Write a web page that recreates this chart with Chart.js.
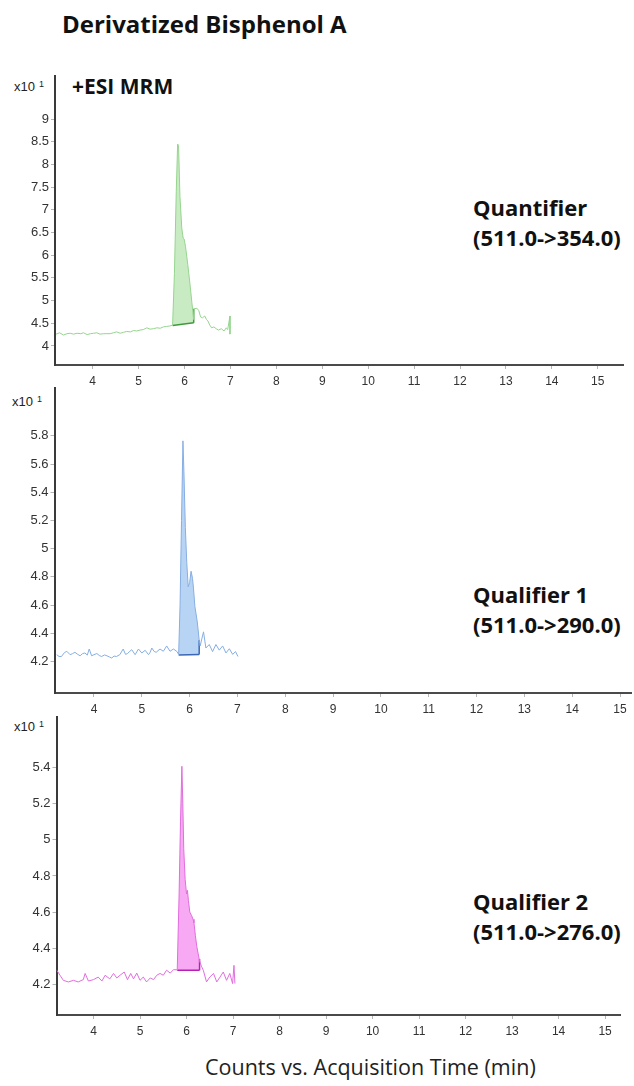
<!DOCTYPE html>
<html>
<head>
<meta charset="utf-8">
<title>Derivatized Bisphenol A</title>
<script src="https://cdn.jsdelivr.net/npm/chart.js@4.4.1/dist/chart.umd.min.js"></script>
<style>
  body { margin: 0; background: #fff; }
  #page { position: relative; width: 634px; height: 1086px; overflow: hidden; font-family: "Open Sans", sans-serif; color: #111; }
  #page canvas { position: absolute; }
  .txt { position: absolute; white-space: nowrap; }
  .title { left: 62px; top: 9px; font-size: 24px; font-weight: 700; line-height: 30px; }
  .mode { left: 72px; top: 71px; font-size: 21px; font-weight: 700; line-height: 30px; }
  .exp { font-family: "Liberation Sans", sans-serif; font-size: 13px; line-height: 13px; color: #222; }
  .exp sup { font-size: 9px; position: relative; top: -2px; vertical-align: top; margin-left: 4px; }
  .trans { left: 473px; font-size: 22px; font-weight: 700; line-height: 30px; }
  .xtitle { left: 205px; top: 1052px; font-size: 21.5px; line-height: 30px; color: #222; }
</style>
</head>
<body>
<div id="page">
  <div class="txt title">Derivatized Bisphenol A</div>
  <div class="txt mode">+ESI MRM</div>

  <div class="txt exp" style="left:14px;top:80px;">x10<sup>1</sup></div>
  <div class="txt exp" style="left:12px;top:395px;">x10<sup>1</sup></div>
  <div class="txt exp" style="left:14px;top:720px;">x10<sup>1</sup></div>

  <div class="txt trans" style="top:192px;">Quantifier<br>(511.0-&gt;354.0)</div>
  <div class="txt trans" style="top:579px;">Qualifier 1<br>(511.0-&gt;290.0)</div>
  <div class="txt trans" style="top:886px;">Qualifier 2<br>(511.0-&gt;276.0)</div>

  <div class="txt xtitle">Counts vs. Acquisition Time (min)</div>

  <canvas id="quant" width="634" height="329" style="left:0;top:66px;"></canvas>
  <canvas id="qual1" width="634" height="345" style="left:0;top:378px;"></canvas>
  <canvas id="qual2" width="634" height="338" style="left:0;top:707px;"></canvas>
</div>

<script>
// retention time axis ticks (min)
var timeTicks = [4, 5, 6, 7, 8, 9, 10, 11, 12, 13, 14, 15];

// Quantifier 511.0 -> 354.0  (counts x10^1)
var quantTime = [3.20, 3.28, 3.36, 3.44, 3.51, 3.58, 3.66, 3.74, 3.80, 3.88, 3.95, 4.02, 4.09, 4.16, 4.24, 4.31,
  4.38, 4.45, 4.52, 4.60, 4.67, 4.74, 4.82, 4.89, 4.96, 5.03, 5.10, 5.18, 5.25, 5.32, 5.40, 5.47, 5.54, 5.61, 5.68,
  5.74, 5.78, 5.82, 5.85, 5.87, 5.90, 5.94, 5.97, 5.99, 6.02, 6.07, 6.12, 6.16, 6.20,
  6.21, 6.27, 6.31, 6.35, 6.39, 6.44, 6.48, 6.51, 6.55, 6.59, 6.64, 6.69, 6.74, 6.80, 6.86, 6.91, 6.94, 6.99, 6.99];
var quantCounts = [4.26, 4.29, 4.24, 4.27, 4.28, 4.26, 4.28, 4.27, 4.29, 4.25, 4.27, 4.28, 4.29, 4.26, 4.27, 4.27,
  4.27, 4.29, 4.31, 4.28, 4.30, 4.32, 4.31, 4.34, 4.33, 4.35, 4.36, 4.40, 4.37, 4.38, 4.40, 4.39, 4.42, 4.43, 4.44,
  4.46, 5.60, 7.40, 8.45, 8.42, 7.30, 6.60, 6.38, 6.36, 6.20, 5.80, 5.35, 4.96, 4.58,
  4.82, 4.83, 4.78, 4.64, 4.62, 4.66, 4.58, 4.55, 4.46, 4.40, 4.42, 4.38, 4.35, 4.38, 4.33, 4.40, 4.36, 4.66, 4.26];
var quantBaseTime = [5.74, 6.20];
var quantBaseCounts = [4.45, 4.51];
var quantDropCounts = [4.51, 4.82];
var quantTicks = [4, 4.5, 5, 5.5, 6, 6.5, 7, 7.5, 8, 8.5, 9];

// Qualifier 1  511.0 -> 290.0
var qual1Time = [3.22, 3.27, 3.32, 3.38, 3.43, 3.50, 3.55, 3.60, 3.66, 3.71, 3.76, 3.81, 3.86, 3.90, 3.95, 4.00, 4.06,
  4.11, 4.16, 4.22, 4.27, 4.32, 4.37, 4.42, 4.47, 4.54, 4.61, 4.66, 4.70, 4.75, 4.79, 4.86, 4.93, 5.00, 5.07, 5.14,
  5.17, 5.21, 5.26, 5.30, 5.38, 5.45, 5.52, 5.59, 5.66, 5.73, 5.77,
  5.80, 5.83, 5.86, 5.88, 5.91, 5.94, 5.97, 6.00, 6.03, 6.06, 6.08, 6.11, 6.16, 6.20,
  6.22, 6.29, 6.34, 6.41, 6.48, 6.55, 6.62, 6.69, 6.76, 6.83, 6.90, 6.96, 7.01];
var qual1Counts = [4.248, 4.235, 4.235, 4.262, 4.272, 4.248, 4.255, 4.265, 4.250, 4.240, 4.255, 4.260, 4.245, 4.288, 4.240, 4.248, 4.256,
  4.242, 4.235, 4.246, 4.240, 4.232, 4.224, 4.238, 4.235, 4.248, 4.288, 4.250, 4.256, 4.272, 4.283, 4.248, 4.288, 4.260, 4.279, 4.248,
  4.262, 4.295, 4.270, 4.265, 4.288, 4.272, 4.310, 4.272, 4.288, 4.272, 4.250,
  4.600, 5.200, 5.765, 5.550, 5.150, 4.900, 4.730, 4.760, 4.840, 4.790, 4.720, 4.590, 4.480, 4.350,
  4.310, 4.410, 4.295, 4.320, 4.270, 4.320, 4.280, 4.310, 4.260, 4.290, 4.250, 4.270, 4.235];
var qual1BaseTime = [5.77, 6.20];
var qual1BaseCounts = [4.245, 4.25];
var qual1DropCounts = [4.25, 4.35];
var qual1Ticks = [4.2, 4.4, 4.6, 4.8, 5, 5.2, 5.4, 5.6, 5.8];

// Qualifier 2  511.0 -> 276.0
var qual2Time = [3.21, 3.28, 3.35, 3.46, 3.57, 3.67, 3.78, 3.82, 3.89, 4.00, 4.10, 4.18, 4.25, 4.35, 4.43, 4.50, 4.57,
  4.66, 4.73, 4.80, 4.86, 4.93, 5.00, 5.07, 5.14, 5.22, 5.29, 5.36, 5.43, 5.50, 5.57, 5.65, 5.72, 5.80,
  5.84, 5.87, 5.90, 5.92, 5.94, 5.97, 6.00, 6.02, 6.04, 6.07, 6.11, 6.14, 6.16, 6.19, 6.22, 6.25, 6.28,
  6.32, 6.36, 6.43, 6.50, 6.58, 6.65, 6.72, 6.79, 6.86, 6.93, 6.99, 7.02, 7.04];
var qual2Counts = [4.278, 4.250, 4.222, 4.213, 4.222, 4.213, 4.226, 4.260, 4.218, 4.226, 4.240, 4.218, 4.250, 4.230, 4.260, 4.235, 4.250,
  4.268, 4.226, 4.260, 4.230, 4.262, 4.222, 4.240, 4.213, 4.235, 4.226, 4.250, 4.260, 4.250, 4.278, 4.262, 4.281, 4.280,
  4.700, 5.100, 5.407, 5.200, 4.950, 4.780, 4.700, 4.720, 4.665, 4.600, 4.580, 4.560, 4.540, 4.470, 4.410, 4.370, 4.330,
  4.300, 4.278, 4.213, 4.240, 4.260, 4.213, 4.240, 4.268, 4.222, 4.260, 4.204, 4.305, 4.204];
var qual2BaseTime = [5.80, 6.28];
var qual2BaseCounts = [4.278, 4.278];
var qual2DropCounts = [4.278, 4.34];
var qual2Ticks = [4.2, 4.4, 4.6, 4.8, 5, 5.2, 5.4];

function toPoints(xs, ys) {
  var pts = [];
  for (var i = 0; i < xs.length; i++) {
    pts.push({ x: xs[i], y: ys[i] });
  }
  return pts;
}

// part of the trace inside the integration window
function peakPoints(xs, ys, from, to) {
  var pts = [];
  for (var i = 0; i < xs.length; i++) {
    if (xs[i] >= from - 1e-9 && xs[i] <= to + 1e-9) pts.push({ x: xs[i], y: ys[i] });
  }
  return pts;
}

function fixedTicks(values) {
  return function (scale) {
    scale.ticks = values.map(function (v) { return { value: v }; });
  };
}

function drawTrace(id, s) {
  var ctx = document.getElementById(id).getContext('2d');
  var baseEnd = s.baseTime[1];
  return new Chart(ctx, {
    type: 'line',
    data: {
      datasets: [
        { data: toPoints(s.time, s.counts), borderColor: s.line, borderWidth: 1, pointRadius: 0, tension: 0, fill: false },
        { data: toPoints(s.baseTime, s.baseCounts), borderColor: s.dark, borderWidth: 1.5, pointRadius: 0, fill: false },
        { data: toPoints([baseEnd, baseEnd], s.drop), borderColor: s.dark, borderWidth: 1.5, pointRadius: 0, fill: false },
        { data: peakPoints(s.time, s.counts, s.baseTime[0], baseEnd), borderWidth: 0, borderColor: 'rgba(0,0,0,0)',
          pointRadius: 0, backgroundColor: s.area, fill: 1 }
      ]
    },
    options: {
      responsive: false,
      animation: false,
      devicePixelRatio: 1,
      layout: { padding: { top: 10, right: s.padRight, left: 0, bottom: 0 } },
      plugins: { legend: { display: false }, tooltip: { enabled: false } },
      scales: {
        x: {
          type: 'linear', min: s.xMin, max: s.xMax,
          afterBuildTicks: fixedTicks(timeTicks),
          afterFit: function (scale) { scale.height = 30; },
          grid: { drawOnChartArea: false, tickLength: 4, color: '#b5b5b5' },
          border: { color: '#4a4a4a', width: 2 },
          ticks: { color: '#333', padding: 5, maxRotation: 0, autoSkip: false,
            font: { family: 'Liberation Sans', size: 12 } }
        },
        y: {
          type: 'linear', min: s.yMin, max: s.yMax,
          afterBuildTicks: fixedTicks(s.ticks),
          afterFit: function (scale) { scale.width = s.left; },
          grid: { drawOnChartArea: false, tickLength: 4, color: '#b5b5b5' },
          border: { color: '#3a3a3a', width: 2 },
          ticks: { color: '#333', padding: 2, font: { family: 'Liberation Sans', size: 13 },
            callback: function (v) { return String(Math.round(v * 10) / 10); } }
        }
      }
    }
  });
}

drawTrace('quant', {
  time: quantTime, counts: quantCounts, baseTime: quantBaseTime, baseCounts: quantBaseCounts, drop: quantDropCounts,
  ticks: quantTicks, yMin: 3.58, yMax: 9.95, xMin: 3.179, xMax: 15.55, left: 55, padRight: 11,
  line: '#96d48f', dark: '#3f9a3c', area: 'rgba(178,226,170,0.7)'
});

drawTrace('qual1', {
  time: qual1Time, counts: qual1Counts, baseTime: qual1BaseTime, baseCounts: qual1BaseCounts, drop: qual1DropCounts,
  ticks: qual1Ticks, yMin: 3.976, yMax: 6.14, xMin: 3.174, xMax: 15.23, left: 54.5, padRight: 3,
  line: '#86aee2', dark: '#3b67b5', area: 'rgba(172,204,242,0.85)'
});

drawTrace('qual2', {
  time: qual2Time, counts: qual2Counts, baseTime: qual2BaseTime, baseCounts: qual2BaseCounts, drop: qual2DropCounts,
  ticks: qual2Ticks, yMin: 4.03, yMax: 5.68, xMin: 3.204, xMax: 15.32, left: 56.5, padRight: 14,
  line: '#e06ede', dark: '#b81fb5', area: 'rgba(246,160,242,0.9)'
});
</script>
</body>
</html>
